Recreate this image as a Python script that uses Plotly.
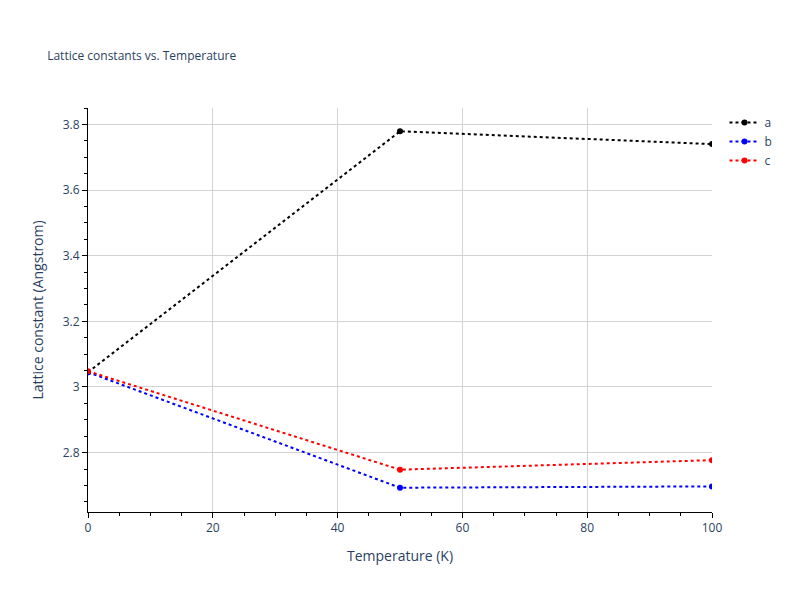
import plotly.graph_objs as go

# Data
temps = [0, 50, 100]
a_vals = [3.045, 3.779, 3.740]
b_vals = [3.045, 2.693, 2.697]
c_vals = [3.048, 2.748, 2.777]

series = [('a', a_vals, 'black'), ('b', b_vals, 'blue'), ('c', c_vals, 'red')]

traces = []
for name, vals, color in series:
    traces.append(go.Scatter(
        x=temps, y=vals, mode='lines+markers', name=name,
        line=dict(color=color, dash='dot', width=2),
        marker=dict(color=color, size=6)
    ))

axis_style = dict(
    showline=True, linecolor='black', linewidth=1,
    showgrid=True, gridcolor='lightgray', zeroline=False,
    ticks='outside', ticklen=5, tickcolor='black',
    minor=dict(ticks='outside', ticklen=3, tickcolor='black', showgrid=False),
)

layout = go.Layout(
    title=dict(text='Lattice constants vs. Temperature', font=dict(size=12), x=0.05, y=0.925),
    xaxis=dict(title='Temperature (K)', range=[0, 100], dtick=20, **axis_style),
    yaxis=dict(title='Lattice constant (Angstrom)', range=[2.619, 3.85], dtick=0.2, **axis_style),
    plot_bgcolor='white', paper_bgcolor='white',
    margin=dict(l=80, r=80, t=100, b=80),
    showlegend=True,
)

fig = go.Figure(data=traces, layout=layout)
fig.write_html("out.html")
